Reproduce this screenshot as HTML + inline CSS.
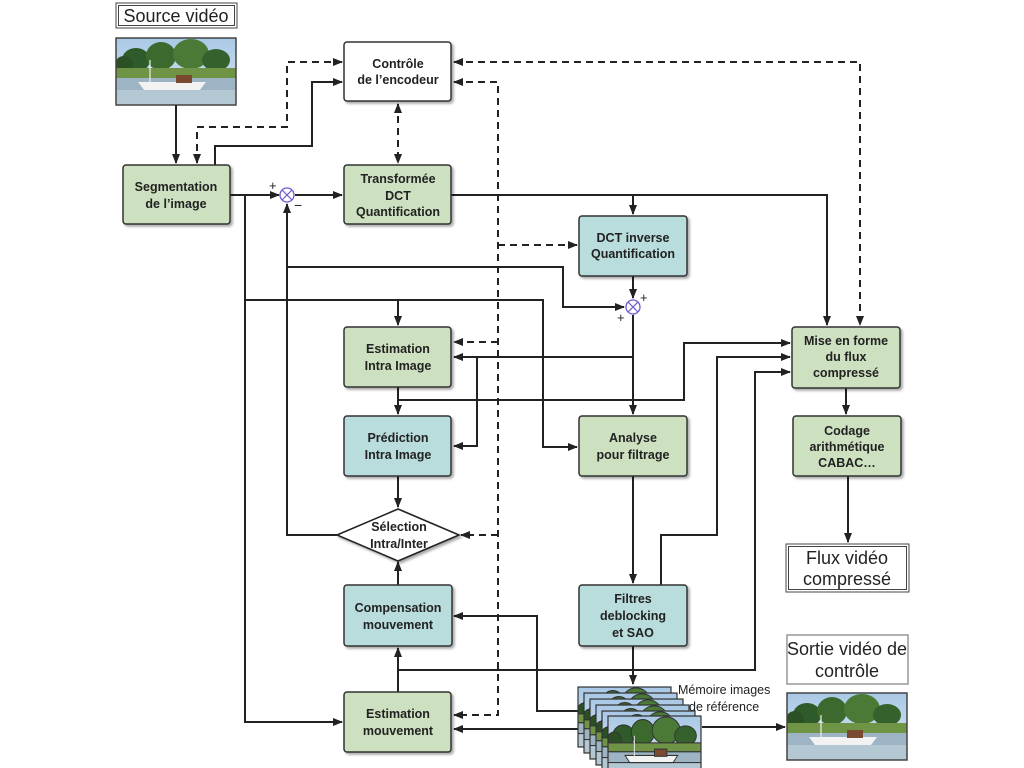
<!DOCTYPE html>
<html><head><meta charset="utf-8"><style>
html,body{margin:0;padding:0;background:#fff;}
svg{display:block;}
text{font-family:"Liberation Sans",sans-serif;}
.b{font-weight:bold;font-size:12.5px;fill:#222;text-anchor:middle;}
.l{font-size:18px;fill:#222;text-anchor:middle;}
.s{stroke:#222;stroke-width:2;fill:none;}
.d{stroke:#222;stroke-width:2;fill:none;stroke-dasharray:7,5;}
.g{fill:#cde0c0;stroke:#333;stroke-width:1.5;}
.c{fill:#b9dcdc;stroke:#333;stroke-width:1.5;}
</style></head><body>
<svg width="1024" height="768" viewBox="0 0 1024 768" xmlns="http://www.w3.org/2000/svg">
<defs>
<marker id="a" markerWidth="10" markerHeight="8" refX="9" refY="4" orient="auto" markerUnits="userSpaceOnUse"><path d="M0,0 L10,4 L0,8 z" fill="#222"/></marker>
<marker id="as" markerWidth="10" markerHeight="8" refX="1" refY="4" orient="auto" markerUnits="userSpaceOnUse"><path d="M10,0 L0,4 L10,8 z" fill="#222"/></marker>
<filter id="sh"><feDropShadow dx="2" dy="2" stdDeviation="1.2" flood-color="#000" flood-opacity="0.35"/></filter>
<linearGradient id="sky" x1="0" y1="0" x2="0" y2="1"><stop offset="0" stop-color="#a9c8e6"/><stop offset="1" stop-color="#dce8f0"/></linearGradient>
<symbol id="pic" viewBox="0 0 120 67" preserveAspectRatio="none">
<rect width="120" height="67" fill="url(#sky)"/>
<ellipse cx="20" cy="22" rx="14" ry="12" fill="#2f5a2a"/><ellipse cx="45" cy="18" rx="15" ry="14" fill="#3c6a2e"/><ellipse cx="75" cy="16" rx="18" ry="15" fill="#4a7a36"/><ellipse cx="100" cy="22" rx="14" ry="11" fill="#35622c"/><ellipse cx="8" cy="26" rx="9" ry="8" fill="#2a5024"/>
<rect y="30" width="120" height="10" fill="#6f9446"/>
<rect y="40" width="120" height="27" fill="#9cb4c4"/>
<rect y="52" width="120" height="15" fill="#b4c8d4"/>
<path d="M22,44 L90,44 L84,52 L28,52 z" fill="#f2f2f2"/><rect x="60" y="37" width="16" height="8" fill="#7a4a30"/><line x1="34" y1="22" x2="34" y2="45" stroke="#eee" stroke-width="1.2"/>
</symbol>
</defs>

<rect x="116" y="3" width="121" height="25" fill="#fff" stroke="#444" stroke-width="1"/>
<rect x="118.5" y="5.5" width="116" height="20" fill="none" stroke="#444" stroke-width="1"/>
<text class="l" x="176" y="22">Source vidéo</text>
<use href="#pic" x="116" y="38" width="120" height="67"/>
<rect x="116" y="38" width="120" height="67" fill="none" stroke="#444" stroke-width="1.5"/>

<path class="s" d="M176,105 V163" marker-end="url(#a)"/>
<path class="d" d="M197,163 V127 H287 V62 H342" marker-end="url(#a)" marker-start="url(#as)"/>
<path class="s" d="M215,165 V146 H312 V82 H342" marker-end="url(#a)"/>
<path class="d" d="M398,104 V163" marker-end="url(#a)" marker-start="url(#as)"/>
<path class="d" d="M454,62 H860 V325" marker-end="url(#a)" marker-start="url(#as)"/>
<path class="d" d="M454,82 H498 V715 H454" marker-end="url(#a)" marker-start="url(#as)"/>
<path class="d" d="M498,245 H577" marker-end="url(#a)"/>
<path class="d" d="M498,342 H454" marker-end="url(#a)"/>
<path class="d" d="M498,535 H461" marker-end="url(#a)"/>

<path class="s" d="M230,195 H279" marker-end="url(#a)"/>
<path class="s" d="M295,195 H342" marker-end="url(#a)"/>
<path class="s" d="M245,195 V722 H342" marker-end="url(#a)"/>
<path class="s" d="M245,300 H543 V447 H577" marker-end="url(#a)"/>
<path class="s" d="M398,300 V325" marker-end="url(#a)"/>
<path class="s" d="M337,535 H287 V204" marker-end="url(#a)"/>
<path class="s" d="M287,267 H563 V307 H624" marker-end="url(#a)"/>
<path class="s" d="M451,195 H827 V325" marker-end="url(#a)"/>
<path class="s" d="M633,195 V214" marker-end="url(#a)"/>
<path class="s" d="M633,276 V298" marker-end="url(#a)"/>
<path class="s" d="M633,315 V414" marker-end="url(#a)"/>
<path class="s" d="M633,357 H454" marker-end="url(#a)"/>
<path class="s" d="M477,357 V446 H454" marker-end="url(#a)"/>
<path class="s" d="M398,387 V414" marker-end="url(#a)"/>
<path class="s" d="M398,400 H684 V343 H790" marker-end="url(#a)"/>
<path class="s" d="M633,476 V583" marker-end="url(#a)"/>
<path class="s" d="M661,585 V535 H717 V357 H790" marker-end="url(#a)"/>
<path class="s" d="M633,646 V684" marker-end="url(#a)"/>
<path class="s" d="M398,692 V648" marker-end="url(#a)"/>
<path class="s" d="M398,670 H755 V372 H790" marker-end="url(#a)"/>
<path class="s" d="M578,711 H537 V616 H454" marker-end="url(#a)"/>
<path class="s" d="M578,729 H454" marker-end="url(#a)"/>
<path class="s" d="M702,727 H785" marker-end="url(#a)"/>
<path class="s" d="M398,476 V507" marker-end="url(#a)"/>
<path class="s" d="M398,585 V562" marker-end="url(#a)"/>
<path class="s" d="M846,388 V414" marker-end="url(#a)"/>
<path class="s" d="M848,476 V542" marker-end="url(#a)"/>

<circle cx="287" cy="195" r="7" fill="#fff" stroke="#6a5acd" stroke-width="1.3"/>
<path d="M282,190 L292,200 M292,190 L282,200" stroke="#6a5acd" stroke-width="1.2"/>
<text x="269" y="190" font-size="13" fill="#222">+</text><text x="294" y="210" font-size="14" fill="#222">−</text>
<circle cx="633" cy="307" r="7" fill="#fff" stroke="#6a5acd" stroke-width="1.3"/>
<path d="M628,302 L638,312 M638,302 L628,312" stroke="#6a5acd" stroke-width="1.2"/>
<text x="640" y="302" font-size="13" fill="#222">+</text><text x="617" y="322" font-size="13" fill="#222">+</text>

<g filter="url(#sh)">
<rect x="344" y="42" width="107" height="59" rx="3" fill="#fff" stroke="#333" stroke-width="1.5"/>
<rect class="g" x="123" y="165" width="107" height="59" rx="3"/>
<rect class="g" x="344" y="165" width="107" height="59" rx="3"/>
<rect class="c" x="579" y="216" width="108" height="60" rx="3"/>
<rect class="g" x="344" y="327" width="107" height="60" rx="3"/>
<rect class="c" x="344" y="416" width="107" height="60" rx="3"/>
<path d="M337,535 L398,509 L459,535 L398,561 z" fill="#fff" stroke="#222" stroke-width="1.5"/>
<rect class="c" x="344" y="585" width="108" height="61" rx="3"/>
<rect class="g" x="344" y="692" width="107" height="60" rx="3"/>
<rect class="g" x="579" y="416" width="108" height="60" rx="3"/>
<rect class="c" x="579" y="585" width="108" height="61" rx="3"/>
<rect class="g" x="792" y="327" width="108" height="61" rx="3"/>
<rect class="g" x="793" y="416" width="108" height="60" rx="3"/>
</g>
<text class="b" x="398" y="68">Contrôle</text><text class="b" x="398" y="84">de l’encodeur</text>
<text class="b" x="176" y="191">Segmentation</text><text class="b" x="176" y="208">de l’image</text>
<text class="b" x="398" y="183">Transformée</text><text class="b" x="398" y="200">DCT</text><text class="b" x="398" y="216">Quantification</text>
<text class="b" x="633" y="242">DCT inverse</text><text class="b" x="633" y="258">Quantification</text>
<text class="b" x="398" y="353">Estimation</text><text class="b" x="398" y="370">Intra Image</text>
<text class="b" x="398" y="442">Prédiction</text><text class="b" x="398" y="459">Intra Image</text>
<text class="b" x="399" y="531">Sélection</text><text class="b" x="399" y="548">Intra/Inter</text>
<text class="b" x="398" y="612">Compensation</text><text class="b" x="398" y="629">mouvement</text>
<text class="b" x="398" y="718">Estimation</text><text class="b" x="398" y="735">mouvement</text>
<text class="b" x="633" y="442">Analyse</text><text class="b" x="633" y="459">pour filtrage</text>
<text class="b" x="633" y="603">Filtres</text><text class="b" x="633" y="620">deblocking</text><text class="b" x="633" y="637">et SAO</text>
<text class="b" x="846" y="345">Mise en forme</text><text class="b" x="846" y="361">du flux</text><text class="b" x="846" y="377">compressé</text>
<text class="b" x="847" y="435">Codage</text><text class="b" x="847" y="451">arithmétique</text><text class="b" x="847" y="467">CABAC…</text>

<rect x="786" y="544" width="123" height="48" fill="#fff" stroke="#444" stroke-width="1"/>
<rect x="788.5" y="546.5" width="118" height="43" fill="none" stroke="#444" stroke-width="1"/>
<text class="l" x="847" y="564">Flux vidéo</text><text class="l" x="847" y="585">compressé</text>

<g stroke="#333" stroke-width="1.2">
<use href="#pic" x="578" y="687" width="93" height="60"/><rect x="578" y="687" width="93" height="60" fill="none"/>
<use href="#pic" x="584" y="693" width="93" height="60"/><rect x="584" y="693" width="93" height="60" fill="none"/>
<use href="#pic" x="590" y="699" width="93" height="60"/><rect x="590" y="699" width="93" height="60" fill="none"/>
<use href="#pic" x="596" y="705" width="93" height="60"/><rect x="596" y="705" width="93" height="60" fill="none"/>
<use href="#pic" x="602" y="711" width="93" height="60"/><rect x="602" y="711" width="93" height="60" fill="none"/>
<use href="#pic" x="608" y="716" width="93" height="60"/><rect x="608" y="716" width="93" height="60" fill="none"/>
</g>
<text x="678" y="694" font-size="12.5" fill="#222">Mémoire images</text>
<text x="689" y="711" font-size="12.5" fill="#222">de référence</text>

<rect x="787" y="635" width="121" height="49" fill="#fff" stroke="#999" stroke-width="1.5"/>
<text class="l" x="847" y="655">Sortie vidéo de</text><text class="l" x="847" y="677">contrôle</text>
<use href="#pic" x="787" y="693" width="120" height="67"/>
<rect x="787" y="693" width="120" height="67" fill="none" stroke="#444" stroke-width="1.5"/>
</svg>
</body></html>
